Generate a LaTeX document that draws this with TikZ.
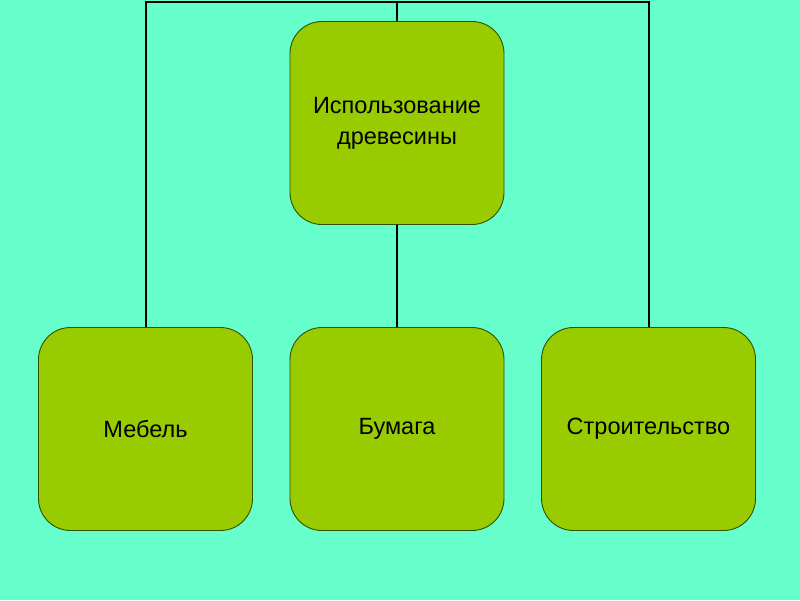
\documentclass[tikz,border=0pt]{standalone}
\usepackage{fontspec}
\setmainfont{Liberation Sans}
\definecolor{bg}{HTML}{66FFCC}
\definecolor{boxfill}{HTML}{99CC00}
\definecolor{boxline}{HTML}{2E5200}
\begin{document}
\begin{tikzpicture}[x=1pt,y=-1pt,
  box/.style={draw=boxline, line width=0.9pt, fill=boxfill, rounded corners=32pt,
    minimum width=214pt, minimum height=203pt, inner sep=0pt, align=center,
    font=\fontsize{23.5}{31}\selectfont},
  conn/.style={draw=black, line width=2pt}]
\fill[bg] (0,0) rectangle (800,600);
\useasboundingbox (0,0) rectangle (800,600);
\coordinate (tl) at (145.5,1.5);
\coordinate (tm) at (397,1.5);
\coordinate (tr) at (648.5,1.5);
\node[box] (top) at (397,123) {Использование\\древесины};
\node[box] (meb) at (145.5,429) {Мебель};
\node[box] (bum) at (397,429) {Бумага};
\node[box] (str) at (648.5,429) {Строительство};
\draw[conn] (meb.north) -- (tl) -- (tr) -- (str.north);
\draw[conn] (tm) -- (top.north);
\draw[conn] (top.south) -- (bum.north);
\end{tikzpicture}
\end{document}
